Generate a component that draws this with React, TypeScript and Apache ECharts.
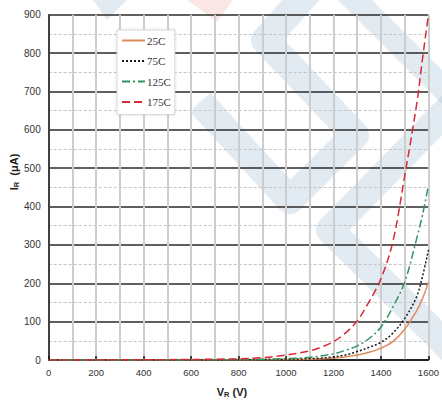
import React, { useEffect, useRef } from "react";
import * as echarts from "echarts";

const voltages = [0, 100, 200, 300, 400, 500, 600, 700, 800, 900, 1000, 1100, 1150, 1200, 1250, 1300, 1350, 1400, 1450, 1500, 1550, 1575, 1600];
const ir25 = [0, 0, 0, 0, 0, 0, 0, 0, 0, 0.5, 1, 2, 3, 5, 8, 13, 20, 31, 48, 80, 128, 160, 203];
const ir75 = [0, 0, 0, 0, 0, 0, 0, 0, 0.5, 1, 1.8, 3.5, 5, 8, 13, 22, 33, 46, 70, 108, 165, 218, 287];
const ir125 = [0, 0, 0, 0, 0, 0, 0.3, 0.5, 1, 2, 3.5, 7, 11, 16, 25, 37, 56, 86, 138, 203, 315, 378, 455];
const ir175 = [0, 0.2, 0.3, 0.4, 0.6, 0.9, 1.3, 2, 3, 6, 13, 24, 34, 48, 70, 102, 152, 212, 308, 480, 665, 785, 900];
const seriesNames = ["25C", "75C", "125C", "175C"];

export default function App() {
  const ref = useRef<HTMLDivElement>(null);
  useEffect(() => {
    if (!ref.current) return;
    const chart = echarts.init(ref.current, undefined, { renderer: "svg" });
    const pts = (ys: number[]) => voltages.map((v, i) => [v, ys[i]]);
    const wm = "rgba(70,120,170,0.15)";
    const mk = (name: string, ys: number[], color: string, type: any, z: number) => ({
      name,
      type: "line",
      data: pts(ys),
      showSymbol: false,
      symbol: "none",
      smooth: 0.35,
      z,
      lineStyle: { color, width: 1.5, type },
      itemStyle: { color },
    });
    const rich = {
      a: { fontFamily: "Liberation Sans", fontWeight: "bold", fontSize: 11, fill: "#222", color: "#222" },
      s: { fontFamily: "Liberation Sans", fontWeight: "bold", fontSize: 7.5, fill: "#222", color: "#222", padding: [4, 0, 0, 0] },
    };
    chart.setOption({
      animation: false,
      backgroundColor: "#ffffff",
      grid: { left: 48.7, right: 10.5, top: 14.7, bottom: 43, containLabel: false },
      legend: {
        orient: "vertical",
        left: 117,
        top: 30,
        data: seriesNames,
        backgroundColor: "#ffffff",
        borderColor: "#d8d8d8",
        borderWidth: 1,
        shadowBlur: 3,
        shadowColor: "rgba(0,0,0,0.15)",
        padding: [5, 4, 7, 4],
        itemWidth: 23,
        itemHeight: 13,
        itemGap: 9.5,
        itemStyle: { color: "rgba(0,0,0,0)", borderColor: "rgba(0,0,0,0)", borderWidth: 0, opacity: 0 },
        textStyle: { fontFamily: "Liberation Serif", fontSize: 11, color: "#333", padding: [0, 0, 0, -3] },
      },
      xAxis: {
        type: "value",
        min: 0,
        max: 1600,
        interval: 200,
        axisLine: { show: true, lineStyle: { color: "#111", width: 1.5 } },
        axisTick: { show: true, inside: true, length: 4, lineStyle: { color: "#111", width: 1.5 } },
        axisLabel: { fontFamily: "Liberation Sans", fontSize: 9.5, color: "#333", margin: 7, formatter: (v: number) => String(v) },
        splitLine: { show: true, lineStyle: { color: "#cdcdcd", width: 2 } },
        minorTick: { show: false, splitNumber: 2 },
        minorSplitLine: { show: true, lineStyle: { color: "#cdcdcd", width: 2 } },
      },
      yAxis: {
        type: "value",
        min: 0,
        max: 900,
        interval: 100,
        axisLine: { show: true, lineStyle: { color: "#111", width: 1.5 } },
        axisTick: { show: false },
        axisLabel: { fontFamily: "Liberation Sans", fontSize: 10, color: "#333", margin: 8, formatter: (v: number) => String(v) },
        splitLine: { show: true, lineStyle: { color: "#2a2a2a", width: 1.5 } },
        minorTick: { show: false, splitNumber: 2 },
        minorSplitLine: { show: true, lineStyle: { color: "#c4c4c4", width: 1, type: [3, 2] } },
      },
      series: [
        mk("25C", ir25, "#dd8c5c", "solid", 2),
        mk("75C", ir75, "#1a1a1a", [2, 2], 3),
        mk("125C", ir125, "#2f9460", [8, 3, 2, 3], 4),
        mk("175C", ir175, "#d62b35", [8, 4], 5),
      ],
      graphic: [
        {
          type: "text",
          x: 232,
          y: 392,
          style: { text: "{a|V}{s|R}{a| (V)}", align: "center", verticalAlign: "middle", rich },
        },
        {
          type: "text",
          x: 14,
          y: 172,
          rotation: Math.PI / 2,
          style: { text: "{a|I}{s|R}{a|  (μA)}", align: "center", verticalAlign: "middle", rich },
        },
        {
          type: "group",
          silent: true,
          z: 100,
          children: [
            { type: "polygon", shape: { points: [[93, 0], [127, 0], [107, 20]] }, style: { fill: wm } },
            { type: "polygon", shape: { points: [[187, 0], [233, 0], [217, 22]] }, style: { fill: "rgba(230,80,80,0.14)" } },
            {
              type: "polyline",
              shape: { points: [[310, -10], [265, 40], [355, 135], [290, 200], [200, 102]] },
              style: { stroke: wm, lineWidth: 28, fill: null, lineJoin: "round", lineCap: "butt" },
            },
            {
              type: "polyline",
              shape: { points: [[460, 97], [330, 230], [460, 358]] },
              style: { stroke: wm, lineWidth: 28, fill: null, lineJoin: "round", lineCap: "butt" },
            },
            {
              type: "polyline",
              shape: { points: [[345, -10], [455, 100]] },
              style: { stroke: wm, lineWidth: 24, fill: null, lineCap: "butt" },
            },
          ],
        },
      ],
    });
    return () => chart.dispose();
  }, []);
  return <div ref={ref} style={{ position: "fixed", left: 0, top: 0, width: 442, height: 403 }} />;
}
